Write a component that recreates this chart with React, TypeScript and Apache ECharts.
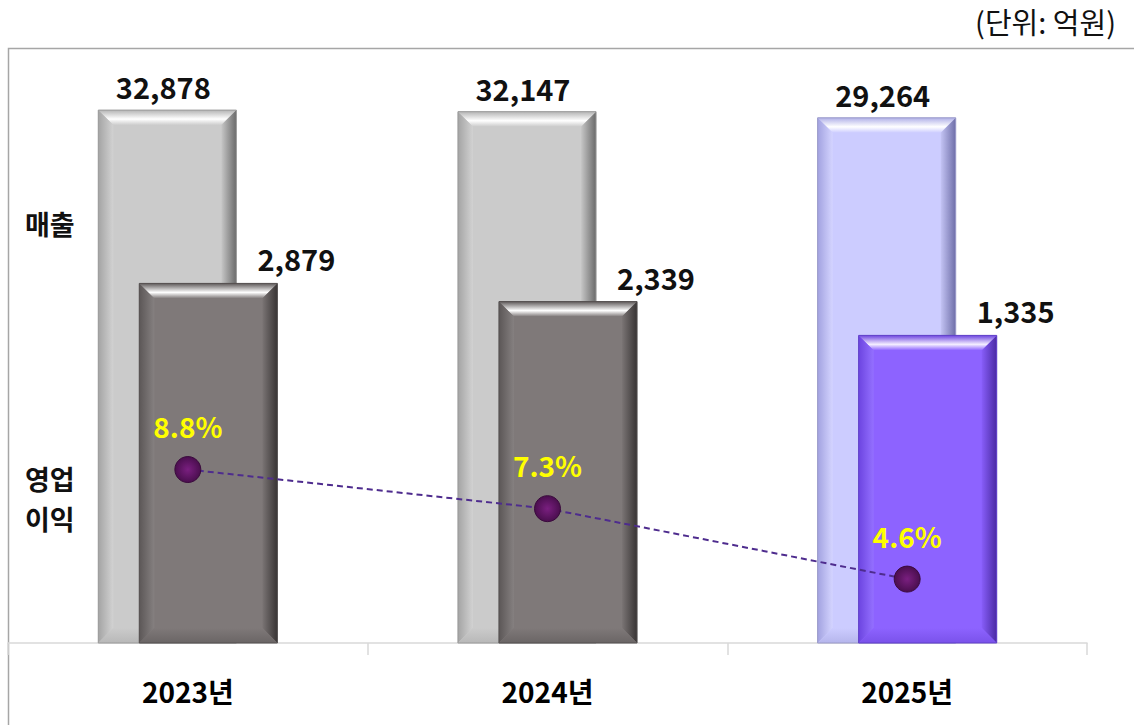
import React, { useEffect, useRef } from "react";
import * as echarts from "echarts";

const categories = ["2023년", "2024년", "2025년"];
const revenue = [32878, 32147, 29264];
const operatingProfit = [2879, 2339, 1335];
const marginPct = [8.8, 7.3, 4.6];
const unitLabel = "(단위: 억원)";
const revenueLabel = "매출";
const profitLabel = "영업\n이익";

const FONT = '"Noto Sans CJK KR", "Noto Sans", sans-serif';

type Pal = { face: string; top0: string; top1: string; left0: string; left1: string; right0: string; right1: string; bottom: string; stroke: string };

const revPalettes: Pal[] = [
  { face: "#CBCBCB", top0: "#B4B4B4", top1: "#FFFFFF", left0: "#A4A4A4", left1: "#D2D2D2", right0: "#C6C6C6", right1: "#6A6A6A", bottom: "#B8B8B8", stroke: "#9A9A9A" },
  { face: "#CBCBCB", top0: "#B4B4B4", top1: "#FFFFFF", left0: "#A4A4A4", left1: "#D2D2D2", right0: "#C6C6C6", right1: "#6A6A6A", bottom: "#B8B8B8", stroke: "#9A9A9A" },
  { face: "#CCCCFF", top0: "#B0B0E8", top1: "#FFFFFF", left0: "#A2A2E0", left1: "#D4D4FF", right0: "#C4C4F4", right1: "#6E6EA8", bottom: "#B6B6EC", stroke: "#9A9AC8" },
];
const profPalettes: Pal[] = [
  { face: "#7F7979", top0: "#5E5959", top1: "#FFFFFF", left0: "#5C5757", left1: "#858080", right0: "#7A7474", right1: "#383434", bottom: "#6A6565", stroke: "#555050" },
  { face: "#7F7979", top0: "#5E5959", top1: "#FFFFFF", left0: "#5C5757", left1: "#858080", right0: "#7A7474", right1: "#383434", bottom: "#6A6565", stroke: "#555050" },
  { face: "#8D63FF", top0: "#6E46E0", top1: "#F4EEFF", left0: "#6C44E0", left1: "#9470FF", right0: "#875DF8", right1: "#4A2AA4", bottom: "#7A52EA", stroke: "#6040C8" },
];

function bevelBar(x: number, y: number, w: number, h: number, p: Pal) {
  const b = 15;
  const LG = echarts.graphic.LinearGradient;
  return [
    { type: "rect", shape: { x, y, width: w, height: h }, style: { fill: p.face } },
    {
      type: "polygon",
      shape: { points: [[x, y], [x + w, y], [x + w - b, y + b], [x + b, y + b]] },
      style: { fill: new LG(0, 0, 0, 1, [{ offset: 0, color: p.top0 }, { offset: 0.6, color: p.top1 }, { offset: 1, color: p.face }]) },
    },
    {
      type: "polygon",
      shape: { points: [[x, y], [x + b, y + b], [x + b, y + h - b], [x, y + h]] },
      style: { fill: new LG(0, 0, 1, 0, [{ offset: 0, color: p.left0 }, { offset: 1, color: p.left1 }]) },
    },
    {
      type: "polygon",
      shape: { points: [[x + w, y], [x + w, y + h], [x + w - b, y + h - b], [x + w - b, y + b]] },
      style: { fill: new LG(0, 0, 1, 0, [{ offset: 0, color: p.right0 }, { offset: 1, color: p.right1 }]) },
    },
    {
      type: "polygon",
      shape: { points: [[x, y + h], [x + w, y + h], [x + w - b, y + h - b], [x + b, y + h - b]] },
      style: { fill: new LG(0, 0, 0, 1, [{ offset: 0, color: p.face }, { offset: 1, color: p.bottom }]) },
    },
    { type: "rect", shape: { x, y, width: w, height: h }, style: { fill: "none", stroke: p.stroke, lineWidth: 1 } },
  ];
}

function makeRender(offsetFrac: number, palettes: Pal[], labelDx: number, labelDy: number) {
  return (params: any, api: any) => {
    const idx = api.value(0);
    const v = api.value(1);
    const band = api.size([1, 0])[0];
    const top = api.coord([idx, v]);
    const cs = params.coordSys;
    const baseY = cs.y + cs.height;
    const w = band * 0.384;
    const cx = top[0] + offsetFrac * band;
    const x = cx - w / 2;
    const y = top[1];
    const children: any[] = bevelBar(x, y, w, baseY - y, palettes[idx]);
    children.push({
      type: "text",
      style: {
        text: Number(v).toLocaleString("en-US"),
        x: cx + labelDx,
        y: y - labelDy,
        align: "center",
        verticalAlign: "middle",
        fill: "#111111",
        fontSize: 29,
        fontWeight: "bold",
        fontFamily: FONT,
      },
    });
    return { type: "group", children };
  };
}

export default function App() {
  const ref = useRef<HTMLDivElement>(null);
  useEffect(() => {
    document.body.style.margin = "0";
    const chart = echarts.init(ref.current!, null, { renderer: "svg" });
    chart.setOption({
      animation: false,
      backgroundColor: "#FFFFFF",
      grid: { left: 8, right: 47, top: 48, bottom: 82 },
      xAxis: {
        type: "category",
        data: categories,
        boundaryGap: true,
        axisLine: { onZero: false, lineStyle: { color: "#D9D9D9", width: 1.5 } },
        axisTick: { show: true, length: 12, lineStyle: { color: "#D9D9D9", width: 1.5 } },
        axisLabel: { color: "#000000", fontSize: 28, fontWeight: "bold", fontFamily: FONT, margin: 34 },
      },
      yAxis: [
        { type: "value", show: false, min: -217000, max: 62000 },
        { type: "value", show: false, min: -7800, max: 9870 },
        { type: "value", show: false, min: 2.15, max: 24.96 },
      ],
      graphic: [
        { type: "rect", shape: { x: 8.5, y: 48.5, width: 1200, height: 800 }, style: { fill: "none", stroke: "#A6A6A6", lineWidth: 1.5 }, z: 0 },
        { type: "text", right: 18, top: 6, style: { text: unitLabel, fill: "#111111", fontSize: 29, fontFamily: FONT } },
        { type: "text", left: 25, top: 210, style: { text: revenueLabel, fill: "#111111", fontSize: 27, fontWeight: "bold", fontFamily: FONT } },
        { type: "text", left: 25, top: 458, style: { text: profitLabel, fill: "#111111", fontSize: 27, fontWeight: "bold", fontFamily: FONT, lineHeight: 40 } },
      ],
      series: [
        {
          type: "custom",
          yAxisIndex: 0,
          data: revenue.map((v, i) => [i, v]),
          renderItem: makeRender(-0.057, revPalettes, -4, 24),
          z: 2,
        },
        {
          type: "custom",
          yAxisIndex: 1,
          data: operatingProfit.map((v, i) => [i, v]),
          renderItem: makeRender(0.057, profPalettes, 88, 25),
          z: 3,
        },
        {
          type: "line",
          yAxisIndex: 2,
          data: marginPct,
          z: 5,
          symbol: "circle",
          symbolSize: 26,
          lineStyle: { color: "#4E2C8E", width: 2, type: [6, 4] },
          itemStyle: {
            color: new echarts.graphic.RadialGradient(0.5, 0.5, 0.5, [
              { offset: 0, color: "#7A1F80" },
              { offset: 1, color: "#4A0E4E" },
            ]),
            borderColor: "#3A0A3C",
            borderWidth: 1,
          },
          label: {
            show: true,
            position: "top",
            distance: 16,
            formatter: (p: any) => `${p.value}%`,
            color: "#FFFF00",
            fontSize: 28,
            fontWeight: "bold",
            fontFamily: FONT,
          },
        },
      ],
    });
    return () => chart.dispose();
  }, []);
  return <div ref={ref} style={{ width: 1134, height: 725 }} />;
}
